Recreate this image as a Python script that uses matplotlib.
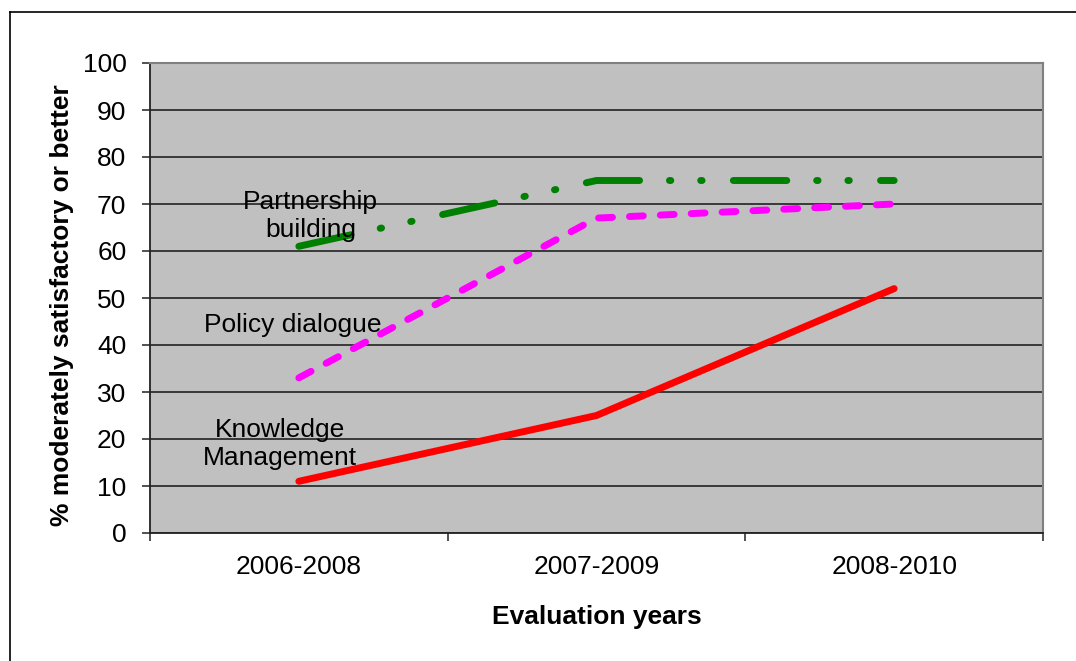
import matplotlib
matplotlib.use("Agg")
import matplotlib.pyplot as plt
from matplotlib.lines import Line2D
import numpy as np

plt.rcParams['font.family'] = ['Liberation Sans', 'DejaVu Sans']

categories = ["2006-2008", "2007-2009", "2008-2010"]
knowledge_management = [11, 25, 52]
policy_dialogue = [33, 67, 70]
partnership_building = [61, 75, 75]
y_ticks = [0, 10, 20, 30, 40, 50, 60, 70, 80, 90, 100]

FS = 19

fig = plt.figure(figsize=(10.76, 6.61), dpi=100)
ax = fig.add_axes([150/1076, 1 - 533/661, 893/1076, 470/661])
ax.set_facecolor('#C0C0C0')

x = np.arange(len(categories)) + 0.5
LW = 5.0

ax.plot(x, knowledge_management, color='#FF0000', lw=LW, solid_capstyle='round',
        solid_joinstyle='round', zorder=3)
ax.plot(x, policy_dialogue, color='#FF00FF', lw=LW, linestyle=(0, (2.0, 2.45)),
        dash_capstyle='round', zorder=3)
ax.plot(x, partnership_building, color='#008000', lw=LW,
        linestyle=(0, (7.7, 4.3, 0.2, 4.3, 0.2, 4.5)), dash_capstyle='round', zorder=3)

ax.set_xlim(0, 3)
ax.set_ylim(0, 100)
ax.set_yticks(y_ticks)
ax.set_xticks([0, 1, 2, 3])
ax.set_xticklabels([])
ax.set_xticks(x, minor=True)
ax.set_xticklabels(categories, minor=True)
ax.tick_params(axis='x', which='minor', length=0, pad=16, labelsize=FS)
ax.tick_params(axis='x', which='major', length=6, width=1.2, direction='out', color='#333333')
ax.tick_params(axis='y', length=6, width=1.2, direction='out', pad=11, labelsize=FS, color='#333333')

ax.yaxis.grid(True, color='#222222', lw=1.2)
ax.set_axisbelow(True)

for s in ['top', 'right']:
    ax.spines[s].set_color('#808080')
    ax.spines[s].set_linewidth(1.5)
for s in ['left', 'bottom']:
    ax.spines[s].set_color('#222222')
    ax.spines[s].set_linewidth(1.3)

ax.set_ylabel('% moderately satisfactory or better', fontsize=FS, fontweight='bold', va='center')
ax.yaxis.set_label_coords(-0.0985, 0.485)
ax.set_xlabel('Evaluation years', fontsize=FS, fontweight='bold', va='center')
ax.xaxis.set_label_coords(0.5, -0.179)

ax.text(0.54, 67.4, 'Partnership\nbuilding', fontsize=FS, ha='center', va='center',
        linespacing=1.2, zorder=4)
ax.text(0.48, 44.3, 'Policy dialogue', fontsize=FS, ha='center', va='center', zorder=4)
ax.text(0.437, 19.0, 'Knowledge\nManagement', fontsize=FS, ha='center', va='center',
        linespacing=1.2, zorder=4)

# outer frame (top and left edges visible)
fig.add_artist(Line2D([10/1076, 1.0], [1 - 12/661, 1 - 12/661], transform=fig.transFigure,
                      color='black', lw=1.2))
fig.add_artist(Line2D([10/1076, 10/1076], [0, 1 - 12/661], transform=fig.transFigure,
                      color='black', lw=1.2))

fig.savefig('out.png', dpi=100)
